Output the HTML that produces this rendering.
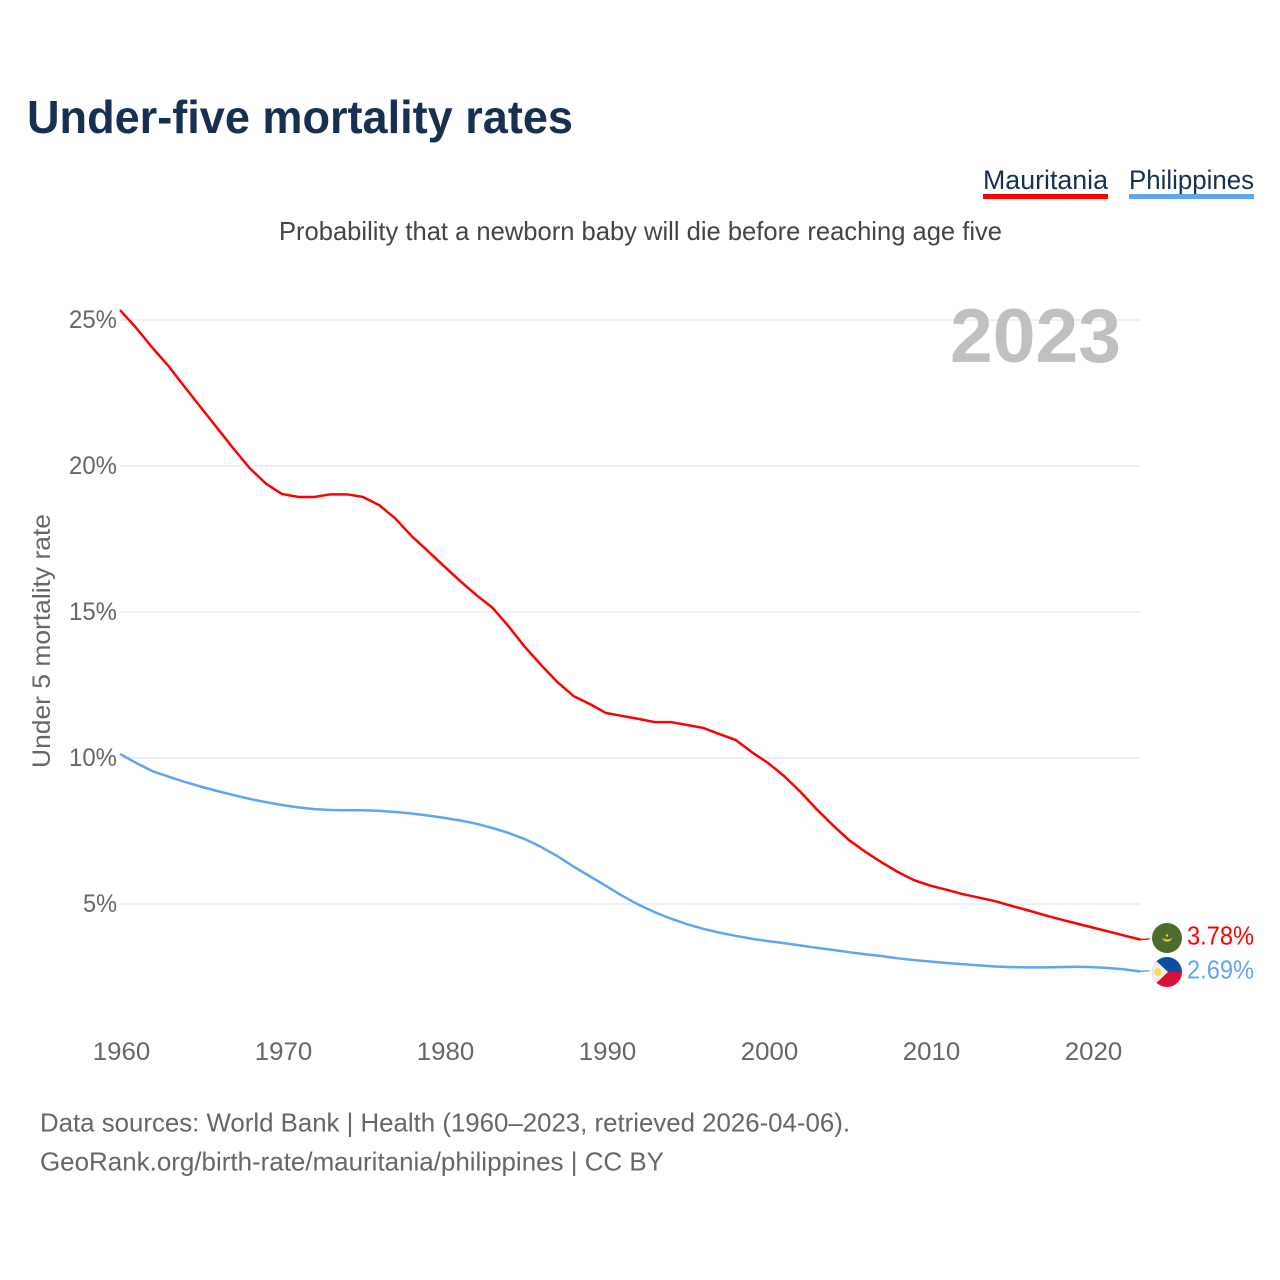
<!DOCTYPE html>
<html lang="en">
<head>
<meta charset="utf-8">
<title>Under-five mortality rates</title>
<style>
html,body{margin:0;padding:0;background:#fff}
svg{display:block;font-family:"Liberation Sans",sans-serif}
</style>
</head>
<body>
<svg id="chart" xmlns="http://www.w3.org/2000/svg" width="1280" height="1280" viewBox="0 0 1280 1280">
<rect width="1280" height="1280" fill="#fff"/>
<text x="27" y="133" font-size="46" font-weight="700" fill="#18304f" textLength="546" lengthAdjust="spacingAndGlyphs">Under-five mortality rates</text>
<g>
<text x="983" y="189" font-size="27" fill="#18304f" textLength="125" lengthAdjust="spacingAndGlyphs">Mauritania</text>
<rect x="983" y="194" width="125" height="5" fill="#ff0000"/>
</g>
<g>
<text x="1129" y="189" font-size="27" fill="#18304f" textLength="125" lengthAdjust="spacingAndGlyphs">Philippines</text>
<rect x="1129" y="194" width="125" height="5" fill="#5fa6ee"/>
</g>
<text x="279" y="240" font-size="26" fill="#444" textLength="723" lengthAdjust="spacingAndGlyphs">Probability that a newborn baby will die before reaching age five</text>
<g id="grid"></g>
<g id="yticks"></g>
<g id="xticks"></g>
<text transform="translate(50,768) rotate(-90)" x="0" y="0" font-size="25" fill="#666" textLength="254" lengthAdjust="spacingAndGlyphs">Under 5 mortality rate</text>
<text x="950" y="362" font-size="76" font-weight="700" fill="#c0c0c0" textLength="171" lengthAdjust="spacingAndGlyphs">2023</text>
<g id="series"></g>
<g>
<circle cx="1167" cy="938" r="15" fill="#4c6b2f"/>
<path d="M1162 937.500 A5.500 5.800 0 0 0 1172.500 937.500 A6 4 0 0 1 1162 937.500Z" fill="#f2d13c"/>
<circle cx="1167" cy="935.500" r="1.200" fill="#f2d13c"/>
</g>
<g>
<clipPath id="phClip"><circle cx="1167" cy="972" r="15"/></clipPath>
<g clip-path="url(#phClip)">
<rect x="1152" y="957" width="30" height="15" fill="#0b4ea2"/>
<rect x="1152" y="972" width="30" height="15" fill="#d80f38"/>
<path d="M1152 957 L1152 987 L1168 972Z" fill="#f0f0f0"/>
<circle cx="1158" cy="972" r="3.800" fill="#ffda44"/>
</g>
</g>
<text x="1187" y="944.500" font-size="26" fill="#ff0000" textLength="67" lengthAdjust="spacingAndGlyphs">3.78%</text>
<text x="1187" y="978.500" font-size="26" fill="#5fa6ee" textLength="67" lengthAdjust="spacingAndGlyphs">2.69%</text>
<text x="40" y="1131.500" font-size="26" fill="#666" textLength="810" lengthAdjust="spacingAndGlyphs">Data sources: World Bank | Health (1960–2023, retrieved 2026-04-06).</text>
<text x="40" y="1170.500" font-size="26" fill="#666" textLength="624" lengthAdjust="spacingAndGlyphs">GeoRank.org/birth-rate/mauritania/philippines | CC BY</text>
</svg>
<script>
const startYear = 1960;
const yTickValues = [5, 10, 15, 20, 25];
const yTickLabels = ['5%', '10%', '15%', '20%', '25%'];
const xTickValues = [1960, 1970, 1980, 1990, 2000, 2010, 2020];
const xTickLabels = ['1960', '1970', '1980', '1990', '2000', '2010', '2020'];
const mauritaniaValues = [25.34,24.73,24.05,23.42,22.7,22.0,21.3,20.6,19.93,19.4,19.04,18.94,18.94,19.03,19.03,18.94,18.66,18.2,17.6,17.09,16.57,16.06,15.58,15.14,14.5,13.8,13.18,12.6,12.12,11.85,11.54,11.44,11.34,11.23,11.23,11.13,11.03,10.82,10.62,10.2,9.83,9.38,8.84,8.25,7.7,7.19,6.79,6.43,6.1,5.82,5.63,5.49,5.34,5.22,5.1,4.94,4.79,4.63,4.48,4.34,4.2,4.06,3.92,3.78];
const philippinesValues = [10.14,9.83,9.55,9.36,9.18,9.02,8.87,8.73,8.6,8.49,8.39,8.31,8.25,8.22,8.21,8.21,8.19,8.15,8.1,8.03,7.95,7.86,7.75,7.6,7.43,7.22,6.95,6.64,6.28,5.95,5.62,5.28,4.98,4.72,4.5,4.31,4.15,4.02,3.91,3.81,3.73,3.66,3.58,3.5,3.43,3.35,3.28,3.22,3.14,3.08,3.03,2.98,2.94,2.9,2.86,2.84,2.83,2.83,2.84,2.85,2.84,2.81,2.76,2.69];

const svgNS = 'http://www.w3.org/2000/svg';
function xScale(year) { return 120 + (year - 1960) * 16.2; }
function yScale(value) { return 904 - (value - 5) * 29.2; }
function make(tag, attrs, parent) {
  const el = document.createElementNS(svgNS, tag);
  for (const k in attrs) el.setAttribute(k, attrs[k]);
  parent.appendChild(el);
  return el;
}
const gridG = document.getElementById('grid');
const yG = document.getElementById('yticks');
const xG = document.getElementById('xticks');
const seriesG = document.getElementById('series');

yTickValues.forEach(function (v, i) {
  const line = make('line', {x1: 120, x2: 1141, y1: yScale(v), y2: yScale(v), stroke: '#e8e8e8', 'stroke-width': 1.2}, gridG);
  
  
  const t = make('text', {x: 117, y: yScale(v) + 8, 'text-anchor': 'end', 'font-size': 25, fill: '#666', textLength: yTickLabels[i].length * 14 + 6, lengthAdjust: 'spacingAndGlyphs'}, yG);
  
  
  t.textContent = yTickLabels[i];
});
xTickValues.forEach(function (v, i) {
  const t = make('text', {x: xScale(v) + 1.5, y: 1060, 'text-anchor': 'middle', 'font-size': 25, fill: '#666', textLength: 57.5, lengthAdjust: 'spacingAndGlyphs'}, xG);
  
  
  t.textContent = xTickLabels[i];
});
function drawSeries(values, color, name) {
  const pts = values.map(function (v, i) {
    return xScale(startYear + i).toFixed(2) + ',' + yScale(v).toFixed(2);
  });
  const line = make('polyline', {points: pts.join(' '), fill: 'none', stroke: color, 'stroke-width': 2.5, 'stroke-linejoin': 'round'}, seriesG);
  
  
  const last = values[values.length - 1];
  const lastX = xScale(startYear + values.length - 1);
  const lead = make('line', {x1: lastX, x2: lastX + 9, y1: yScale(last), y2: yScale(last) - 0.8, stroke: color, 'stroke-width': 1.4}, seriesG);
  
  
}
drawSeries(philippinesValues, '#5fa6ee', 'line-philippines');
drawSeries(mauritaniaValues, '#ff0000', 'line-mauritania');
</script>
</body>
</html>
